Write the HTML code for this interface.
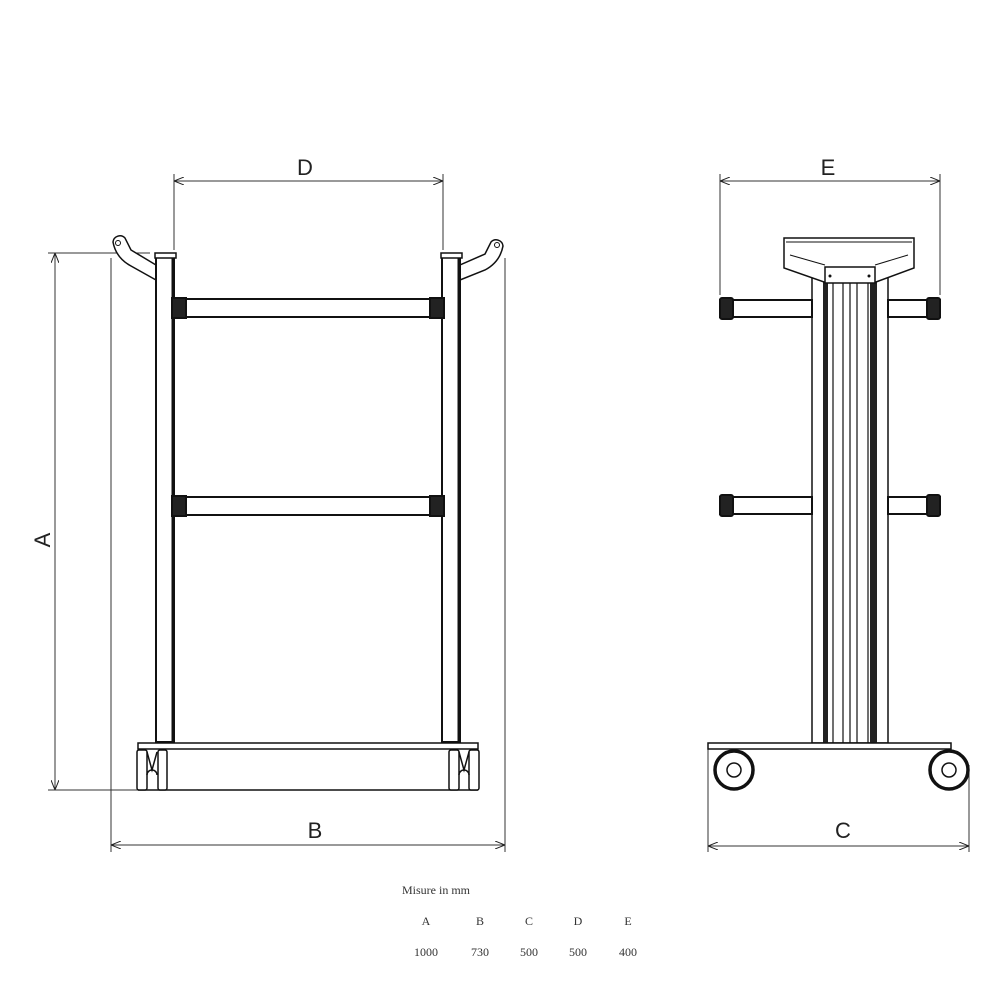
<!DOCTYPE html>
<html><head><style>body{margin:0;background:#fff}svg{display:block}</style></head><body>
<svg width="998" height="998" viewBox="0 0 998 998" xmlns="http://www.w3.org/2000/svg" font-family="Liberation Sans, sans-serif">
<defs><marker id="ar" markerWidth="10" markerHeight="8" refX="10" refY="4" orient="auto-start-reverse" markerUnits="userSpaceOnUse"><path d="M0,0 L10,4 L0,8" fill="none" stroke="#222" stroke-width="1"/></marker></defs>
<g stroke="#333" stroke-width="1" fill="none">
<line x1="55" y1="253" x2="55" y2="790" marker-start="url(#ar)" marker-end="url(#ar)"/>
<line x1="48" y1="253" x2="150" y2="253"/>
<line x1="48" y1="790" x2="145" y2="790"/>
<line x1="111" y1="258" x2="111" y2="852"/>
<line x1="505" y1="258" x2="505" y2="852"/>
<line x1="111" y1="845" x2="505" y2="845" marker-start="url(#ar)" marker-end="url(#ar)"/>
<line x1="174" y1="174" x2="174" y2="250"/>
<line x1="443" y1="174" x2="443" y2="250"/>
<line x1="174" y1="181" x2="443" y2="181" marker-start="url(#ar)" marker-end="url(#ar)"/>
<line x1="720" y1="174" x2="720" y2="295"/>
<line x1="940" y1="174" x2="940" y2="295"/>
<line x1="720" y1="181" x2="940" y2="181" marker-start="url(#ar)" marker-end="url(#ar)"/>
<line x1="708" y1="745" x2="708" y2="852"/>
<line x1="969" y1="765" x2="969" y2="852"/>
<line x1="708" y1="846" x2="969" y2="846" marker-start="url(#ar)" marker-end="url(#ar)"/>
</g>
<g fill="#fff" stroke="#111" stroke-width="2">
<path d="M113,242 a7,7 0 0 1 12,-4 L131,250 L156,265 L156,280 L131,266 Q116,258 113,242 Z" stroke-width="1.5"/>
<circle cx="118" cy="243" r="2.5" stroke-width="1"/>
<path d="M503,246 a7,7 0 0 0 -12,-4 L485,254 L460,265 L460,280 L485,270 Q500,262 503,246 Z" stroke-width="1.5"/>
<circle cx="497" cy="245" r="2.5" stroke-width="1"/>
<rect x="156" y="257" width="18" height="485"/>
<rect x="442" y="257" width="18" height="485"/>
<line x1="173" y1="257" x2="173" y2="742" stroke-width="3"/>
<line x1="459" y1="257" x2="459" y2="742" stroke-width="3"/>
<rect x="155" y="253" width="21" height="5" stroke-width="1.5"/>
<rect x="441" y="253" width="21" height="5" stroke-width="1.5"/>
<rect x="174" y="299" width="268" height="18"/>
<rect x="174" y="497" width="268" height="18"/>
<rect x="172" y="298" width="14" height="20" fill="#222"/>
<rect x="430" y="298" width="14" height="20" fill="#222"/>
<rect x="172" y="496" width="14" height="20" fill="#222"/>
<rect x="430" y="496" width="14" height="20" fill="#222"/>
<rect x="138" y="743" width="340" height="6" stroke-width="1.5"/>
<line x1="138" y1="790" x2="478" y2="790" stroke-width="1.5"/>
<rect x="137" y="750" width="10" height="40" rx="2" stroke-width="1.5"/>
<rect x="158" y="750" width="9" height="40" rx="2" stroke-width="1.5"/>
<rect x="449" y="750" width="10" height="40" rx="2" stroke-width="1.5"/>
<rect x="469" y="750" width="10" height="40" rx="2" stroke-width="1.5"/>
<path d="M147,752 L152,770 L157,752 M147,775 a5,5 0 0 1 10,0" stroke-width="1.5" fill="none"/>
<path d="M459,752 L464,770 L469,752 M459,775 a5,5 0 0 1 10,0" stroke-width="1.5" fill="none"/>
<rect x="812" y="270" width="76" height="473" stroke-width="1.5"/>
<rect x="823" y="270" width="5" height="473" fill="#222" stroke="none"/>
<rect x="870" y="270" width="7" height="473" fill="#222" stroke="none"/>
<g stroke-width="1.2"><line x1="833" y1="270" x2="833" y2="743"/><line x1="843" y1="270" x2="843" y2="743"/><line x1="850" y1="270" x2="850" y2="743"/><line x1="857" y1="270" x2="857" y2="743"/><line x1="868" y1="270" x2="868" y2="743"/></g>
<path d="M784,238 L914,238 L914,268 L876,282 L824,282 L784,268 Z" stroke-width="1.5"/>
<line x1="786" y1="242" x2="912" y2="242" stroke-width="1"/>
<path d="M790,255 L825,265 M908,255 L875,265" stroke-width="1"/>
<rect x="825" y="267" width="50" height="16" stroke-width="1.5"/>
<circle cx="830" cy="276" r="1.5" fill="#111" stroke="none"/>
<circle cx="869" cy="276" r="1.5" fill="#111" stroke="none"/>
<rect x="720" y="300" width="92" height="17"/>
<rect x="888" y="300" width="52" height="17"/>
<rect x="720" y="497" width="92" height="17"/>
<rect x="888" y="497" width="52" height="17"/>
<rect x="720" y="298" width="13" height="21" rx="2" fill="#222"/>
<rect x="927" y="298" width="13" height="21" rx="2" fill="#222"/>
<rect x="720" y="495" width="13" height="21" rx="2" fill="#222"/>
<rect x="927" y="495" width="13" height="21" rx="2" fill="#222"/>
<rect x="708" y="743" width="243" height="6" stroke-width="1.5"/>
<circle cx="734" cy="770" r="19" stroke-width="3.5"/>
<circle cx="734" cy="770" r="7" stroke-width="1.5"/>
<circle cx="949" cy="770" r="19" stroke-width="3.5"/>
<circle cx="949" cy="770" r="7" stroke-width="1.5"/>
</g>
<g fill="#222" font-size="22">
<text x="305" y="175" text-anchor="middle">D</text>
<text x="828" y="175" text-anchor="middle">E</text>
<text x="315" y="838" text-anchor="middle">B</text>
<text x="843" y="838" text-anchor="middle">C</text>
<text transform="translate(50,540) rotate(-90)" text-anchor="middle">A</text>
</g>
<g fill="#333" font-family="Liberation Serif, serif" font-size="12" text-anchor="middle">
<text x="436" y="894">Misure in mm</text>
<text x="426" y="925">A</text><text x="480" y="925">B</text><text x="529" y="925">C</text><text x="578" y="925">D</text><text x="628" y="925">E</text>
<text x="426" y="956">1000</text><text x="480" y="956">730</text><text x="529" y="956">500</text><text x="578" y="956">500</text><text x="628" y="956">400</text>
</g>
</svg>
</body></html>
